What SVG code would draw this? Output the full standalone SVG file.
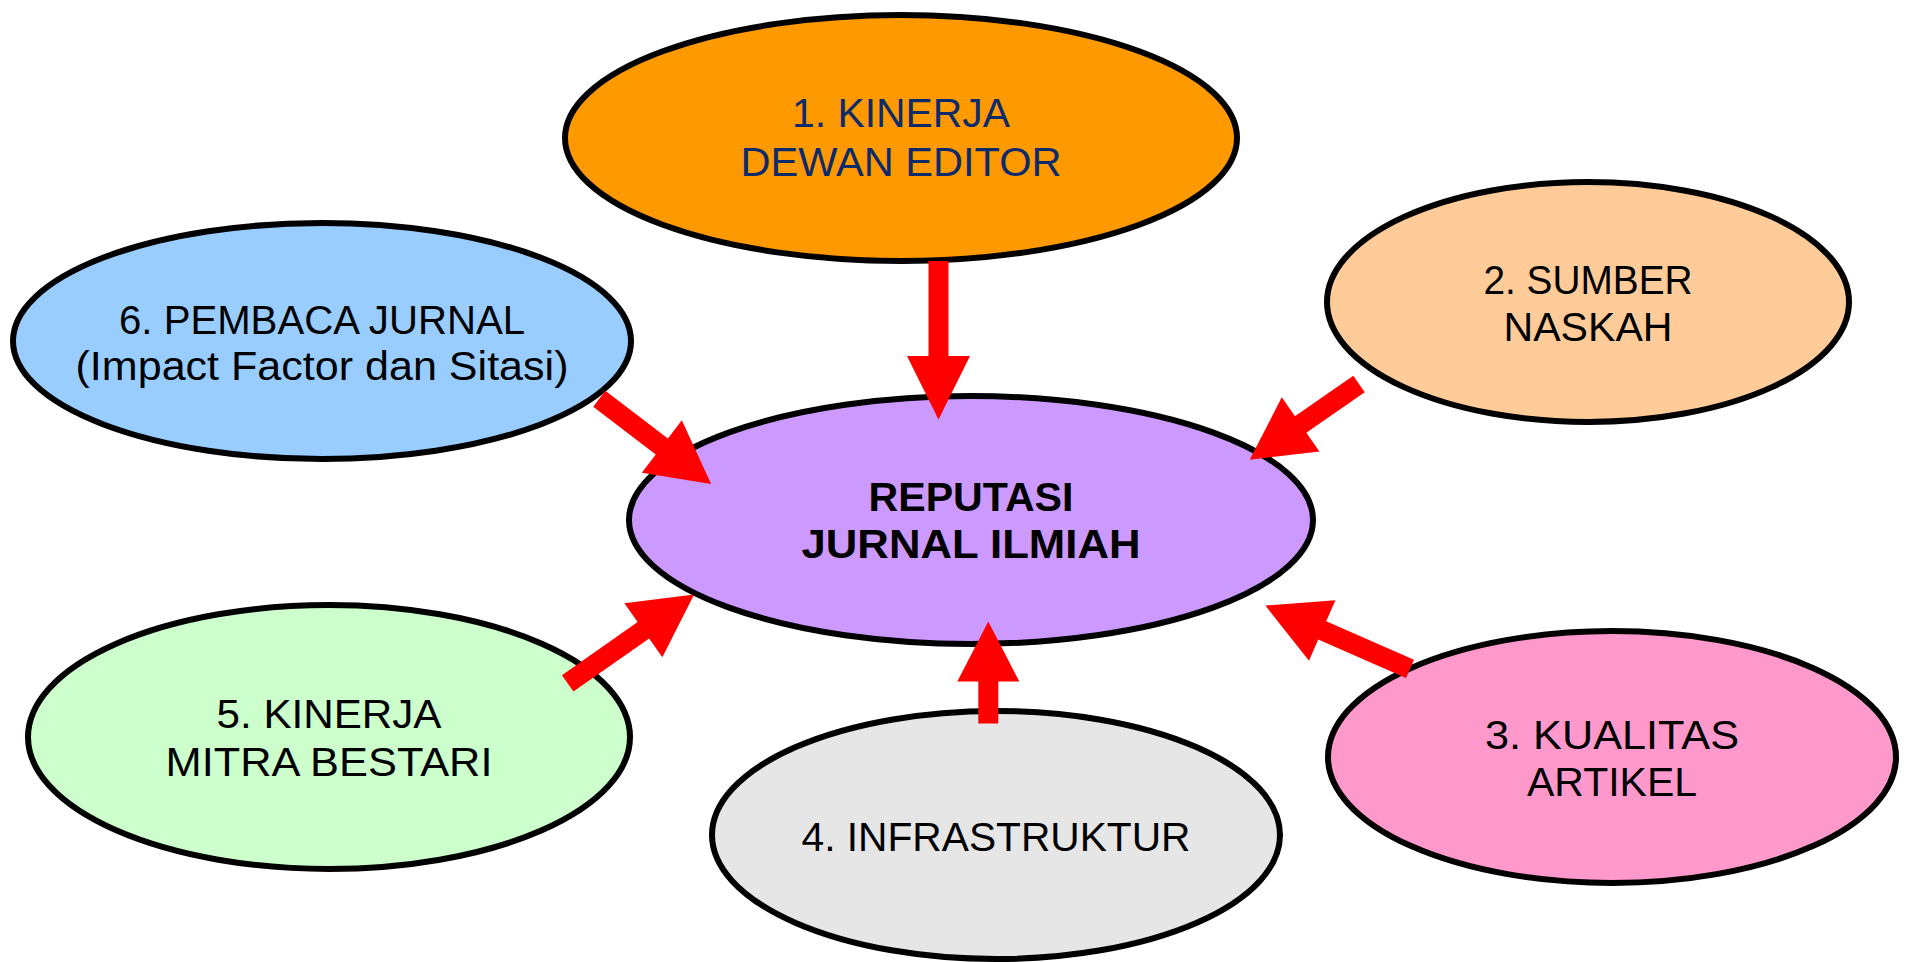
<svg xmlns="http://www.w3.org/2000/svg" width="1906" height="962" viewBox="0 0 1906 962">
<style>
.node ellipse{stroke:#000;stroke-width:6}
.node text{font-family:"Liberation Sans",Arial,sans-serif;font-size:40px;fill:#000;text-anchor:middle}
.arrow{fill:#FF0000;stroke:none}
</style>
<rect width="1906" height="962" fill="#fff"/>
<g id="node-1" class="node">
<ellipse cx="901" cy="138" rx="336" ry="123" fill="#FF9900"/>
<text x="901" y="127" style="fill:#0D2A6B" textLength="218" lengthAdjust="spacingAndGlyphs">1. KINERJA</text>
<text x="901" y="176" style="fill:#0D2A6B" textLength="321" lengthAdjust="spacingAndGlyphs">DEWAN EDITOR</text>
</g>
<g id="node-2" class="node">
<ellipse cx="1588" cy="302" rx="261" ry="120" fill="#FFCC99"/>
<text x="1588" y="294" textLength="209" lengthAdjust="spacingAndGlyphs">2. SUMBER</text>
<text x="1588" y="341" textLength="169" lengthAdjust="spacingAndGlyphs">NASKAH</text>
</g>
<g id="node-6" class="node">
<ellipse cx="322" cy="341" rx="309" ry="118" fill="#99CCFF"/>
<text x="322" y="334" textLength="406" lengthAdjust="spacingAndGlyphs">6. PEMBACA JURNAL</text>
<text x="322" y="380" textLength="493" lengthAdjust="spacingAndGlyphs">(Impact Factor dan Sitasi)</text>
</g>
<g id="node-center" class="node">
<ellipse cx="971" cy="520" rx="342" ry="124" fill="#CC99FF"/>
<text x="971" y="511" style="font-weight:bold" textLength="205" lengthAdjust="spacingAndGlyphs">REPUTASI</text>
<text x="971" y="558" style="font-weight:bold" textLength="339" lengthAdjust="spacingAndGlyphs">JURNAL ILMIAH</text>
</g>
<g id="node-5" class="node">
<ellipse cx="329" cy="737" rx="301" ry="132" fill="#CCFFCC"/>
<text x="329" y="728" textLength="225" lengthAdjust="spacingAndGlyphs">5. KINERJA</text>
<text x="329" y="776" textLength="327" lengthAdjust="spacingAndGlyphs">MITRA BESTARI</text>
</g>
<g id="node-4" class="node">
<ellipse cx="996" cy="835" rx="284" ry="124" fill="#E6E6E6"/>
<text x="996" y="851" textLength="389" lengthAdjust="spacingAndGlyphs">4. INFRASTRUKTUR</text>
</g>
<g id="node-3" class="node">
<ellipse cx="1612" cy="757" rx="284" ry="126" fill="#FF99CC"/>
<text x="1612" y="749" textLength="254" lengthAdjust="spacingAndGlyphs">3. KUALITAS</text>
<text x="1612" y="796" textLength="170" lengthAdjust="spacingAndGlyphs">ARTIKEL</text>
</g>
<g id="connectors">
<path class="arrow" transform="translate(938.5,261) rotate(90)" d="M0,-10 L95,-10 L95,-31.5 L158.5,0 L95,31.5 L95,10 L0,10 Z"/>
<path class="arrow" transform="translate(1359,384) rotate(145.3)" d="M0,-10 L71,-10 L71,-33 L133,0 L71,33 L71,10 L0,10 Z"/>
<path class="arrow" transform="translate(599.3,398.8) rotate(37.3)" d="M0,-10 L78.6,-10 L78.6,-33 L140.6,0 L78.6,33 L78.6,10 L0,10 Z"/>
<path class="arrow" transform="translate(567.7,683.4) rotate(-35.1)" d="M0,-10 L92.5,-10 L92.5,-33 L154.5,0 L92.5,33 L92.5,10 L0,10 Z"/>
<path class="arrow" transform="translate(988.3,723.5) rotate(-90)" d="M0,-10 L42,-10 L42,-31 L102,0 L42,31 L42,10 L0,10 Z"/>
<path class="arrow" transform="translate(1410,668.8) rotate(-156.4)" d="M0,-10 L95.8,-10 L95.8,-33 L157.8,0 L95.8,33 L95.8,10 L0,10 Z"/>
</g>
</svg>
